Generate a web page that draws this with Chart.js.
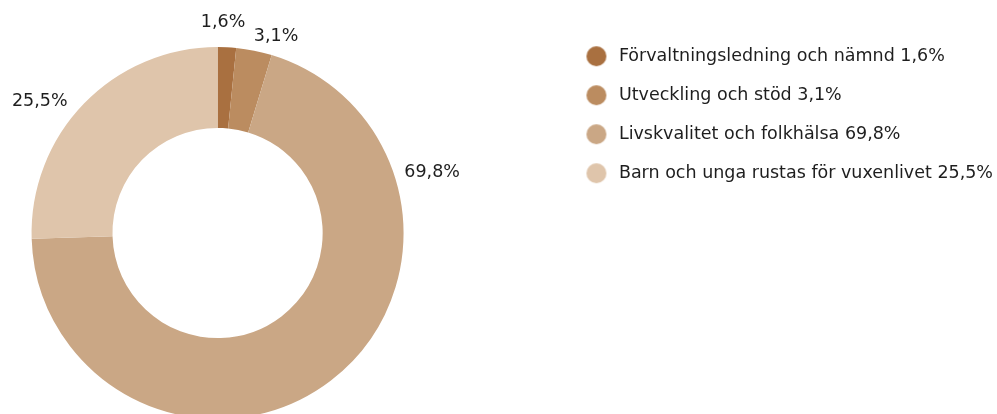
<!DOCTYPE html>
<html><head><meta charset="utf-8">
<script src="https://cdn.jsdelivr.net/npm/chart.js@4"></script>
<style>
html,body{margin:0;padding:0;overflow:hidden;background:#fff;width:997px;height:414px;position:relative}
#wrap{position:absolute;left:-140px;top:0;width:1143px;height:440px}
</style></head><body>
<div id="wrap"><canvas id="c"></canvas></div>
<script>
const categories = ['Förvaltningsledning och nämnd', 'Utveckling och stöd', 'Livskvalitet och folkhälsa', 'Barn och unga rustas för vuxenlivet'];
const shares = [1.6, 3.1, 69.8, 25.5];
const valueLabels = ['1,6%', '3,1%', '69,8%', '25,5%'];
const legendLabels = categories.map((c, i) => c + ' ' + valueLabels[i]);
const sliceColors = ['#a97040', '#bb8c60', '#caa785', '#dfc5ab'];

// legend marker: filled circle, drawn slightly left of the box centre
function makeMarker(color) {
  const cv = document.createElement('canvas');
  cv.width = 40; cv.height = 22;
  const g = cv.getContext('2d');
  g.fillStyle = color;
  g.beginPath();
  g.arc(15, 11, 10, 0, Math.PI * 2);
  g.fill();
  return cv;
}
const markers = sliceColors.map(makeMarker);

const arcLabelPlugin = {
  id: 'arcLabels',
  afterDatasetsDraw(chart, args, opts) {
    const meta = chart.getDatasetMeta(0);
    const ctx = chart.ctx;
    ctx.save();
    ctx.font = opts.size + 'px ' + opts.family;
    ctx.fillStyle = opts.color;
    ctx.textAlign = 'center';
    ctx.textBaseline = 'middle';
    meta.data.forEach((arc, i) => {
      const p = arc.getProps(['x', 'y', 'startAngle', 'endAngle', 'outerRadius'], true);
      const a = p.startAngle + (p.endAngle - p.startAngle) * opts.along[i];
      const text = valueLabels[i];
      const hw = ctx.measureText(text).width / 2, hh = opts.size * 0.46;
      const ux = Math.cos(a), uy = Math.sin(a);
      const d = p.outerRadius + opts.gap[i] + hw * Math.abs(ux) + hh * Math.abs(uy);
      ctx.fillText(text, p.x + ux * d, p.y + uy * d);
    });
    ctx.restore();
  }
};

new Chart(document.getElementById('c'), {
  type: 'doughnut',
  data: {
    labels: legendLabels,
    datasets: [{
      data: shares,
      backgroundColor: sliceColors,
      borderWidth: 0,
      radius: 186,
      cutout: '56.5%'
    }]
  },
  options: {
    responsive: true,
    maintainAspectRatio: false,
    animation: false,
    layout: { padding: { left: 4, top: 26, right: 0, bottom: 0 } },
    plugins: {
      tooltip: { enabled: false },
      legend: {
        position: 'right',
        align: 'start',
        onClick: null,
        labels: {
          usePointStyle: true,
          pointStyle: 'circle',
          boxWidth: 26,
          boxHeight: 14,
          padding: 21.5,
          color: '#1e1e1e',
          font: { family: 'DejaVu Sans', size: 17.5 },
          generateLabels(chart) {
            const items = Chart.overrides.doughnut.plugins.legend.labels.generateLabels(chart);
            return items.map((it, i) => Object.assign(it, { pointStyle: markers[i], fontColor: '#1e1e1e' }));
          }
        }
      },
      arcLabels: {
        family: 'DejaVu Sans',
        size: 17.5,
        color: '#1e1e1e',
        along: [0.26, 0.97, 0.228, 0.417],
        gap: [16, 5, 8, 8]
      }
    }
  },
  plugins: [arcLabelPlugin]
});
</script>
</body></html>
